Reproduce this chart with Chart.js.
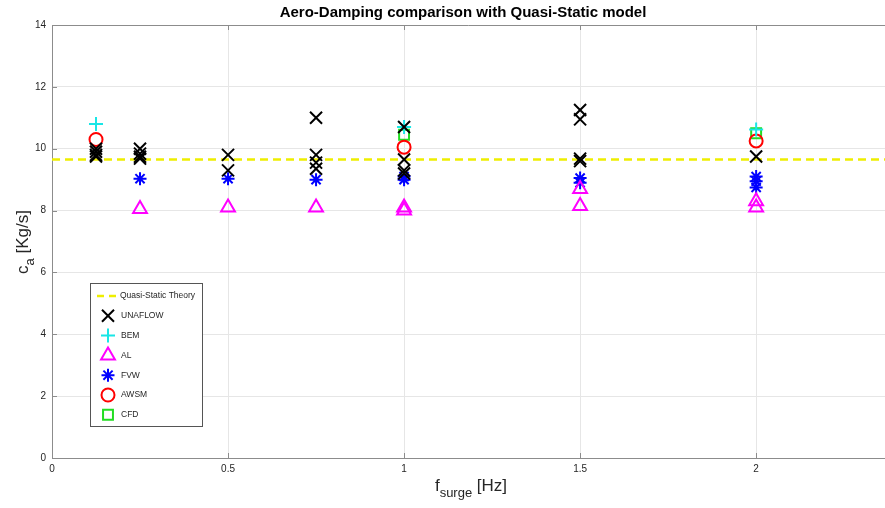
<!DOCTYPE html>
<html>
<head>
<meta charset="utf-8">
<script src="https://cdn.jsdelivr.net/npm/chart.js@4.4.0/dist/chart.umd.min.js"></script>
<style>
  body { margin: 0; background: #fff; }
  canvas { display: block; }
</style>
</head>
<body>
<canvas id="dampChart" width="885" height="508"></canvas>
<script>
// chart values
const xTicks = [0, 0.5, 1, 1.5, 2];
const xLabels = ["0", "0.5", "1", "1.5", "2"];
const xMax = 2.366;
const quasiStaticX = [0, 2.366];
const quasiStaticY = 9.65;

const unaflowX = [0.125, 0.125, 0.125, 0.125, 0.25, 0.25, 0.25, 0.25, 0.5, 0.5, 0.75, 0.75, 0.75, 0.75, 1, 1, 1, 1, 1.5, 1.5, 1.5, 1.5, 2];
const unaflowY = [10.0, 9.9, 9.8, 9.75, 10.0, 9.84, 9.74, 9.68, 9.8, 9.3, 11.0, 9.8, 9.55, 9.35, 10.7, 9.65, 9.3, 9.2, 11.25, 10.95, 9.68, 9.6, 9.75];
const bemX = [0.125, 1, 2];
const bemY = [10.8, 10.7, 10.62];
const alX = [0.25, 0.5, 0.75, 1, 1, 1.5, 1.5, 2, 2];
const alY = [8.05, 8.1, 8.1, 8.1, 8.0, 8.7, 8.15, 8.3, 8.1];
const fvwX = [0.25, 0.5, 0.75, 1, 1, 1.5, 1.5, 2, 2, 2];
const fvwY = [9.03, 9.03, 9.0, 9.1, 9.0, 9.05, 8.9, 9.1, 8.95, 8.75];
const awsmX = [0.125, 1, 2];
const awsmY = [10.3, 10.05, 10.25];
const cfdX = [1, 2];
const cfdY = [10.45, 10.5];

const toPoints = (xs, ys) => xs.map((x, i) => ({ x: x, y: ys[i] }));

const FONT = "'Liberation Sans', Arial, Helvetica, sans-serif";

// marker styles, shared by the datasets and the legend
const series = [
  { label: "UNAFLOW", data: toPoints(unaflowX, unaflowY), color: "#000000", style: "crossRot", radius: 8.5 },
  { label: "BEM", data: toPoints(bemX, bemY), color: "#19e6e6", style: "cross", radius: 7 },
  { label: "AL", data: toPoints(alX, alY), color: "#ff00ff", style: "triangle", radius: 8 },
  { label: "FVW", data: toPoints(fvwX, fvwY), color: "#0000ff", style: "star", radius: 6.5 },
  { label: "AWSM", data: toPoints(awsmX, awsmY), color: "#ff0000", style: "circle", radius: 6.5 },
  { label: "CFD", data: toPoints(cfdX, cfdY), color: "#22dd22", style: "rect", radius: 7 },
];

const datasets = series.map((s, i) => ({
  type: "scatter",
  label: s.label,
  data: s.data,
  pointStyle: s.style,
  pointRadius: s.radius,
  pointBorderWidth: 2,
  pointBorderColor: s.color,
  pointBackgroundColor: "rgba(0,0,0,0)",
  order: i + 1,
}));
datasets.push({
  type: "line",
  label: "Quasi-Static Theory",
  data: quasiStaticX.map((x) => ({ x: x, y: quasiStaticY })),
  borderColor: "#eeee00",
  borderWidth: 2.5,
  borderDash: [8, 5],
  pointRadius: 0,
  order: 10,
});

// draws a label with a subscript part, centred on (0,0)
function drawSubLabel(ctx, main, sub, rest, size) {
  const subSize = Math.round(size * 0.75);
  ctx.font = size + "px " + FONT;
  const w1 = ctx.measureText(main).width;
  const w3 = ctx.measureText(rest).width;
  ctx.font = subSize + "px " + FONT;
  const w2 = ctx.measureText(sub).width;
  let x = -(w1 + w2 + w3) / 2;
  ctx.textAlign = "left";
  ctx.textBaseline = "alphabetic";
  ctx.font = size + "px " + FONT;
  ctx.fillText(main, x, 0);
  x += w1;
  ctx.font = subSize + "px " + FONT;
  ctx.fillText(sub, x, 6);
  x += w2;
  ctx.font = size + "px " + FONT;
  ctx.fillText(rest, x, 0);
}

const decorPlugin = {
  id: "decor",
  beforeDatasetsDraw(chart) {
    const ctx = chart.ctx;
    const a = chart.chartArea;
    const xs = chart.scales.x;
    const ys = chart.scales.y;
    ctx.save();
    // top border + inner ticks
    ctx.strokeStyle = "#8c8c8c";
    ctx.lineWidth = 1;
    ctx.beginPath();
    ctx.moveTo(a.left, a.top + 0.5);
    ctx.lineTo(a.right, a.top + 0.5);
    xTicks.forEach((v) => {
      const px = Math.round(xs.getPixelForValue(v)) + 0.5;
      ctx.moveTo(px, a.bottom);
      ctx.lineTo(px, a.bottom - 5);
      ctx.moveTo(px, a.top);
      ctx.lineTo(px, a.top + 5);
    });
    ys.ticks.forEach((t) => {
      const py = Math.round(ys.getPixelForValue(t.value)) + 0.5;
      ctx.moveTo(a.left, py);
      ctx.lineTo(a.left + 5, py);
    });
    ctx.stroke();
    ctx.restore();
  },
  afterDraw(chart) {
    const ctx = chart.ctx;
    const h = Chart.helpers;
    ctx.save();
    // title
    ctx.fillStyle = "#000";
    ctx.font = "bold 15px " + FONT;
    ctx.textAlign = "center";
    ctx.textBaseline = "middle";
    ctx.fillText("Aero-Damping comparison with Quasi-Static model", 463, 13);

    // axis titles
    ctx.fillStyle = "#262626";
    ctx.save();
    ctx.translate(471, 491);
    drawSubLabel(ctx, "f", "surge", " [Hz]", 17);
    ctx.restore();
    ctx.save();
    ctx.translate(28, 242);
    ctx.rotate(-Math.PI / 2);
    drawSubLabel(ctx, "c", "a", " [Kg/s]", 17);
    ctx.restore();

    // legend box
    const bx = 90, by = 283, bw = 112, bh = 143;
    ctx.fillStyle = "#fff";
    ctx.fillRect(bx, by, bw, bh);
    ctx.strokeStyle = "#555";
    ctx.lineWidth = 1;
    ctx.strokeRect(bx + 0.5, by + 0.5, bw, bh);

    const rowY = (i) => 296 + i * 19.8;
    ctx.font = "8.5px " + FONT;
    ctx.textAlign = "left";
    ctx.textBaseline = "middle";
    // quasi-static dashed sample
    ctx.strokeStyle = "#eeee00";
    ctx.lineWidth = 2.5;
    ctx.setLineDash([7, 5]);
    ctx.beginPath();
    ctx.moveTo(97, rowY(0));
    ctx.lineTo(119, rowY(0));
    ctx.stroke();
    ctx.setLineDash([]);
    ctx.fillStyle = "#262626";
    ctx.fillText("Quasi-Static Theory", 120, rowY(0));

    series.forEach((s, i) => {
      const y = rowY(i + 1);
      ctx.strokeStyle = s.color;
      ctx.fillStyle = "rgba(0,0,0,0)";
      ctx.lineWidth = 2;
      h.drawPoint(ctx, { pointStyle: s.style, radius: s.radius, rotation: 0, borderWidth: 2 }, 108, y);
      ctx.fillStyle = "#262626";
      ctx.fillText(s.label, 121, y);
    });
    ctx.restore();
  },
};

const ctx = document.getElementById("dampChart").getContext("2d");
new Chart(ctx, {
  data: { datasets: datasets },
  options: {
    responsive: false,
    animation: false,
    layout: { autoPadding: false, padding: { top: 25, right: 0, bottom: 0, left: 0 } },
    plugins: {
      legend: { display: false },
      tooltip: { enabled: false },
      title: { display: false },
    },
    scales: {
      x: {
        type: "linear",
        min: 0,
        max: xMax,
        afterBuildTicks: (scale) => {
          scale.ticks = xTicks.map((v) => ({ value: v }));
        },
        afterFit: (scale) => {
          scale.height = 50;
          scale.paddingLeft = 0;
          scale.paddingRight = 0;
        },
        ticks: {
          padding: 5,
          maxRotation: 0,
          color: "#262626",
          font: { size: 10, family: FONT },
          callback: (v) => xLabels[xTicks.indexOf(v)],
        },
        grid: { color: "#e6e6e6", drawTicks: false },
        border: { display: true, color: "#8c8c8c" },
      },
      y: {
        min: 0,
        max: 14,
        afterFit: (scale) => {
          scale.width = 52;
          scale.paddingTop = 0;
          scale.paddingBottom = 0;
        },
        ticks: {
          stepSize: 2,
          padding: 6,
          color: "#262626",
          font: { size: 10, family: FONT },
        },
        grid: { color: "#e6e6e6", drawTicks: false },
        border: { display: true, color: "#8c8c8c" },
      },
    },
  },
  plugins: [decorPlugin],
});
</script>
</body>
</html>
